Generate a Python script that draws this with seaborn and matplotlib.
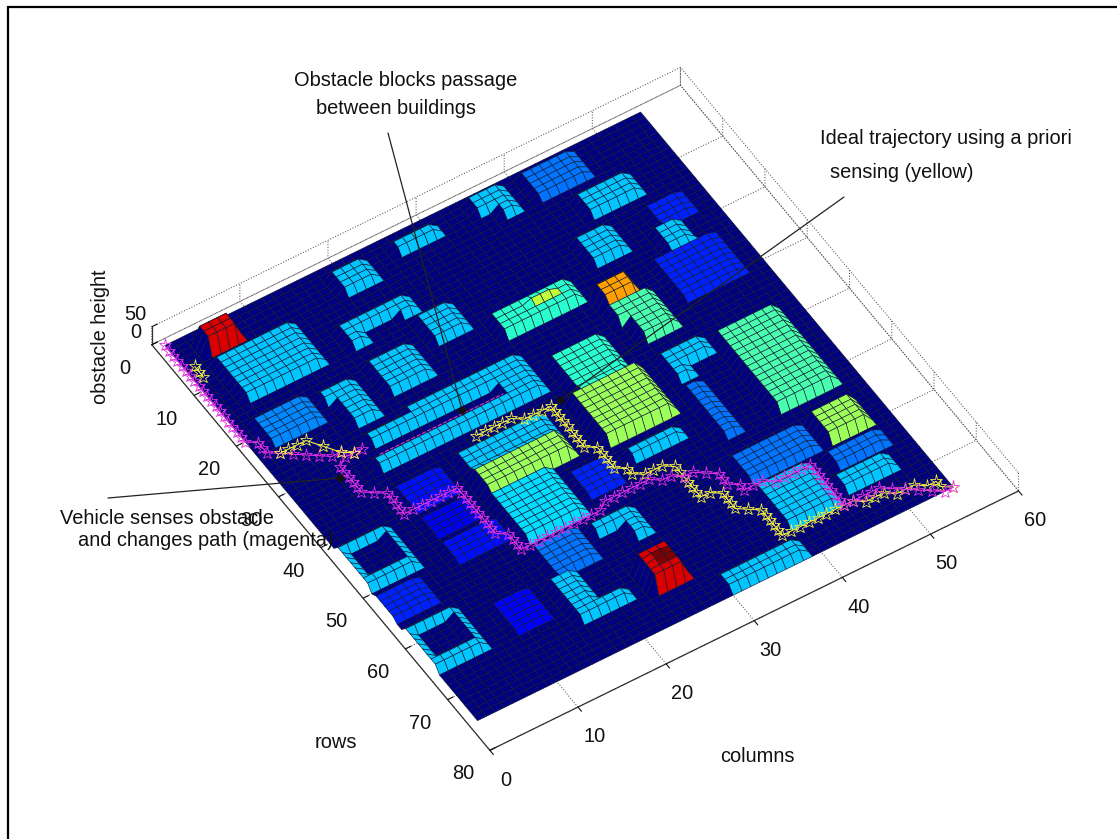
import numpy as np
import matplotlib
matplotlib.use("Agg")
import matplotlib.pyplot as plt
from matplotlib.lines import Line2D
from matplotlib.colors import Normalize
import seaborn as sns

# ---- data -----------------------------------------------------------------
n_rows = 75
n_cols = 55
bld_col0 = [4, 4, 3, 10, 11, 16, 16, 16, 22, 23, 19, 26, 35, 37, 41, 44, 41, 39, 39, 40, 46, 48, 49, 46, 48, 40, 40, 40, 31, 30, 16, 10, 11, 25, 17, 17, 17, 25, 31, 39, 39, 47, 46, 24, 25, 30, 16, 16, 17, 10, 1, 2, 1, 1, 2, 10, 10, 10, 29, 33, 23, 26]
bld_col1 = [8, 13, 9, 13, 14, 21, 24, 18, 24, 27, 23, 31, 39, 39, 47, 50, 45, 43, 44, 44, 53, 51, 53, 53, 53, 45, 42, 42, 37, 38, 29, 29, 16, 29, 27, 27, 24, 29, 37, 47, 45, 53, 52, 28, 27, 39, 19, 22, 22, 14, 7, 6, 6, 7, 6, 15, 15, 16, 38, 36, 28, 28]
bld_row0 = [3, 7, 18, 19, 19, 18, 11, 11, 11, 15, 3, 3, 2, 2, 2, 9, 15, 24, 27, 27, 23, 19, 15, 38, 56, 37, 37, 43, 30, 37, 27, 32, 28, 30, 37, 41, 45, 47, 48, 56, 62, 62, 66, 65, 66, 72, 61, 67, 55, 60, 42, 43, 51, 58, 59, 37, 43, 48, 20, 21, 56, 56]
bld_row1 = [6, 15, 23, 21, 26, 24, 13, 15, 14, 20, 7, 5, 5, 7, 7, 13, 20, 27, 30, 34, 31, 23, 19, 53, 61, 40, 42, 53, 37, 46, 30, 34, 30, 32, 41, 45, 54, 52, 50, 61, 70, 65, 69, 70, 68, 75, 69, 69, 61, 66, 50, 48, 56, 66, 64, 42, 47, 52, 24, 22, 58, 61]
bld_height = [46, 16, 13, 16, 16, 16, 16, 16, 16, 16, 16, 16, 16, 16, 12, 16, 16, 37, 22, 22, 8, 16, 8, 22, 27, 16, 16, 12, 20, 27, 16, 16, 16, 16, 16, 27, 17, 8, 16, 12, 16, 12, 16, 46, 50, 16, 16, 16, 12, 6, 16, 0, 8, 16, 0, 7, 5, 7, 20, 29, 16, 16]

mag_path = [(1,1),(1,2),(1,3),(1,4),(1,5),(1,6),(1,7),(1,8),(1,9),(1,10),(1,11),(1,12),(1,13),(1,14),(1,15),(1,16),(1,17),(1,18),(1,19),(1,20),
            (2,21),(2,22),(2,23),(3,24),(4,25),(5,26),(6,27),(7,28),(8,28),(9,29),(10,29),(9,29),(8,29),(7,30),(7,31),(7,32),(7,33),(7,34),(7,35),(8,36),
            (9,37),(9,38),(9,39),(9,40),(9,41),(10,41),(11,41),(12,41),(13,41),(14,41),(15,41),(15,42),(15,43),(15,44),(15,45),(15,46),(15,47),(15,48),(15,49),(15,50),
            (16,51),(16,52),(16,53),(16,54),(17,54),(18,54),(19,54),(20,54),(21,54),(22,54),(23,54),(24,54),(25,54),(26,53),(27,53),(28,53),(29,53),(30,53),(31,53),(32,54),
            (33,54),(34,55),(35,55),(36,56),(37,57),(37,58),(37,59),(38,60),(38,61),(39,61),(40,61),(41,62),(42,62),(43,62),(44,62),(45,62),(45,63),(45,64),(45,65),(45,66),
            (45,67),(45,68),(45,69),(45,70),(46,70),(47,70),(48,70),(49,70),(50,71),(51,72),(52,73),(53,74),(54,75),(55,75)]
channel_path = [(11,31),(25,31)]
yel_path_a = [(2,6),(2,7),(2,8)]
yel_path_c = [(3,24),(4,24),(5,24),(6,24),(7,26),(8,28),(9,29)]
yel_path_b = [(20,35),(21,35),(22,35),(23,35),(24,35),(25,36),(26,36),(27,36),(28,36),(28,37),(28,38),(28,39),(28,40),(28,41),(28,42),(28,43),(28,44),
              (29,45),(29,46),(29,47),(29,48),(29,49),(30,50),(30,51),(31,52),(32,52),(33,52),(34,53),(34,54),(34,55),(34,56),(34,57),(34,58),(34,59),(35,59),
              (36,60),(36,61),(36,62),(36,63),(37,64),(38,65),(38,66),(38,67),(38,68),(38,69),(38,70),(39,70),(40,70),(41,70),(42,70),(43,70),(44,70),(45,70),
              (46,70),(47,71),(48,71),(49,71),(50,72),(51,72),(52,72),(53,73),(54,73),(54,74),(55,75)]

col_ticks = [0, 10, 20, 30, 40, 50, 60]
row_ticks = [0, 10, 20, 30, 40, 50, 60, 70, 80]
height_ticks = [0, 50]

# ---- height grid -----------------------------------------------------------
cols = np.arange(1, n_cols + 1)
rows = np.arange(1, n_rows + 1)
C, R = np.meshgrid(cols, rows)
Z = np.zeros_like(C, dtype=float)
for c0, c1, r0, r1, h in zip(bld_col0, bld_col1, bld_row0, bld_row1, bld_height):
    Z[(C >= c0) & (C < c1) & (R >= r0) & (R < r1)] = h

# ---- figure ----------------------------------------------------------------
sns.set_theme(style="white")
plt.rcParams["font.family"] = ["Liberation Sans", "DejaVu Sans"]
W, H = 1117, 839
def fx(x): return x / W
def fy(y): return 1 - y / H

fig = plt.figure(figsize=(W / 100, H / 100), dpi=100, facecolor="white")
S = 862.0
cx, cy = 573.5, 420.5
ax = fig.add_axes([(cx - S / 2) / W, (H - cy - S / 2) / H, S / W, S / H], projection="3d", computed_zorder=False)
ax.patch.set_alpha(0)
ax.set_proj_type("ortho")
ax.view_init(elev=50.1, azim=-122.6)
ax.set_xlim(0, 60)
ax.set_ylim(80, 0)
ax.set_zlim(0, 50)
ax.set_box_aspect((1, 1, 0.0446), zoom=1.0)

cmap = matplotlib.colormaps["jet"]
fc = cmap(Normalize(0, 50)(Z))
ax.plot_surface(C, R, Z, rstride=1, cstride=1, facecolors=fc, shade=False,
                edgecolor=(0.06, 0.09, 0.2), linewidth=0.42, zorder=1, antialiased=True)

mark = dict(marker="*", mfc="none", ms=9.5, mew=0.6, lw=0.8)
def draw_path(path, color, z):
    pc, pr = zip(*path)
    ax.plot(pc, pr, np.zeros(len(pc)), color=color, zorder=z, **mark)
draw_path(yel_path_a, "#f4f040", 7)
draw_path(yel_path_c, "#f4f040", 7)
draw_path(yel_path_b, "#f4f040", 5)
draw_path(mag_path, "#e030e0", 6)
pc, pr = zip(*channel_path)
ax.plot(pc, pr, [0, 0], color="#e030e0", lw=0.8, ls="--", zorder=6)

# axes styling
ax.set_xticks(col_ticks)
ax.set_yticks(row_ticks)
ax.set_zticks(height_ticks)
ax.tick_params(axis="x", labelsize=14.4, colors="#111111", pad=7.5)
ax.tick_params(axis="y", labelsize=14.4, colors="#111111", pad=8.5)
ax.tick_params(axis="z", labelsize=14.4, colors="#111111", pad=-2)
for a in (ax.xaxis, ax.yaxis, ax.zaxis):
    a.pane.set_facecolor((1, 1, 1, 0))
    a.pane.set_edgecolor((1, 1, 1, 0))
    a.line.set_color("#333333")
    a.line.set_linewidth(0.9)
    a._axinfo["grid"].update(color="#555555", linestyle=":", linewidth=0.75)
    a._axinfo["tick"].update(inward_factor=0.0, outward_factor=0.13, linewidth={True: 0.8, False: 0.5})
# the columns axis ticks point along the reversed rows axis, so they flip
ax.xaxis._axinfo["tick"].update(inward_factor=0.13, outward_factor=0.0)
ax.grid(True)
for lab in ax.get_zticklabels():
    lab.set_va("bottom")

# labels and notes
fs = 14.4
txt = dict(fontsize=fs, color="#111111", va="center", ha="left")
fig.text(fx(294), fy(80), "Obstacle blocks passage", **txt)
fig.text(fx(316), fy(108), "between buildings", **txt)
fig.text(fx(820), fy(138), "Ideal trajectory using a priori", **txt)
fig.text(fx(830), fy(172), "sensing (yellow)", **txt)
fig.text(fx(60), fy(518), "Vehicle senses obstacle", **txt)
fig.text(fx(78), fy(540), "and changes path (magenta)", **txt)
fig.text(fx(100), fy(337), "obstacle height", rotation=90, fontsize=fs, color="#111111", ha="center", va="center")
fig.text(fx(336), fy(743), "rows", fontsize=fs, color="#111111", ha="center", va="center")
fig.text(fx(757), fy(756), "columns", fontsize=fs, color="#111111", ha="center", va="center")

for (x0, y0, x1, y1) in [(388, 133, 462, 410), (844, 197, 560, 400), (108, 498, 340, 478)]:
    fig.add_artist(Line2D([fx(x0), fx(x1)], [fy(y0), fy(y1)], color="#222222", lw=0.9))
    fig.add_artist(Line2D([fx(x1)], [fy(y1)], color="#111111", marker="D", ms=4, lw=0))

# frame: only the left and top edges exist in the picture
fig.add_artist(Line2D([fx(8), fx(8), fx(W)], [fy(H), fy(7), fy(7)], color="black", lw=1.6, solid_joinstyle="miter"))
fig.savefig("out.png", dpi=100, facecolor="white")
